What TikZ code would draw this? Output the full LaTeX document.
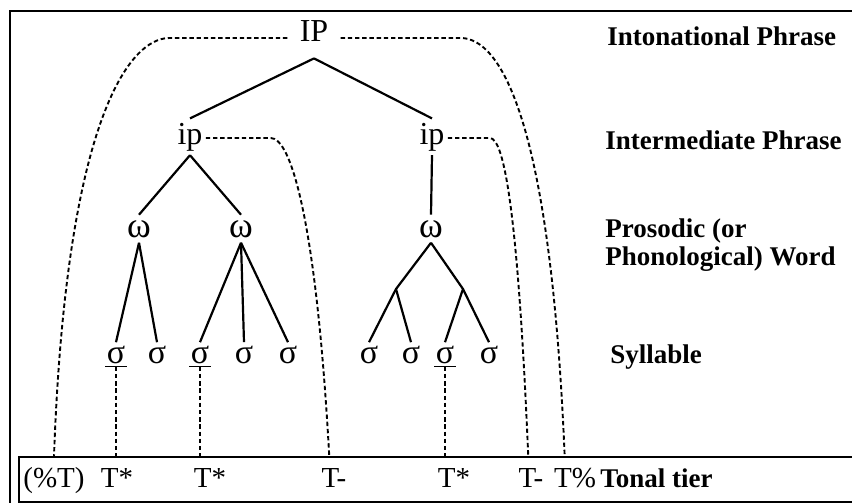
\documentclass[tikz,border=0pt]{standalone}
\usepackage{fontspec}
\setmainfont{Liberation Serif}
\usetikzlibrary{calc}

\begin{document}
\begin{tikzpicture}[
    x=0.5pt, y=-0.5pt,
    phrase/.style={anchor=base, font=\fontsize{16}{18}\selectfont,
                   inner xsep=6pt, inner ysep=8.5pt},
    iphrase/.style={anchor=base, font=\fontsize{16}{18}\selectfont,
                    inner xsep=1.5pt, inner ysep=2pt},
    word/.style={anchor=base, font=\fontsize{18}{20}\selectfont,
                 inner xsep=1pt, inner ysep=2.5pt},
    syl/.style={anchor=base, font=\fontsize{17}{19}\selectfont,
                inner xsep=0.5pt, inner ysep=1.5pt},
    tone/.style={anchor=base, font=\fontsize{14.5}{16}\selectfont, inner sep=0pt},
    level/.style={anchor=base west, font=\fontsize{13.5}{15}\selectfont\bfseries,
                  inner sep=0pt},
    tierbox/.style={draw, line width=0.75pt, anchor=north west, inner sep=0pt,
                    minimum width=441pt, minimum height=22.5pt},
    branch/.style={line width=1.1pt},
    tie/.style={line width=0.95pt, dash pattern=on 2.2pt off 1.4pt}
]

\useasboundingbox (0,0) rectangle (852,503);
\clip (0,0) rectangle (852,503);
\fill[white] (0,0) rectangle (852,503);
\draw[line width=1.25pt] (10,11) rectangle (900,560);

% prosodic tree
\node[phrase] (IP) at (314,41) {IP};
\node[iphrase] (ipA) at (190,144) {ip};
\node[iphrase] (ipB) at (432,144) {ip};
\node[word] (wA) at (139,237) {ω};
\node[word] (wB) at (241,237) {ω};
\node[word] (wC) at (431,237) {ω};

\node[syl] (s1) at (116,363) {σ};
\node[syl] (s2) at (157,363) {σ};
\node[syl] (s3) at (200,363) {σ};
\node[syl] (s4) at (244,363) {σ};
\node[syl] (s5) at (288,363) {σ};
\node[syl] (s6) at (369,363) {σ};
\node[syl] (s7) at (411,363) {σ};
\node[syl] (s8) at (445,363) {σ};
\node[syl] (s9) at (489,363) {σ};

\coordinate (b1) at (396,289);
\coordinate (b2) at (463,289);

\draw[branch] (IP.south) -- (ipA.north);
\draw[branch] (IP.south) -- (ipB.north);
\draw[branch] (ipA.south) -- (wA.north);
\draw[branch] (ipA.south) -- (wB.north);
\draw[branch] (ipB.south) -- (wC.north);
\draw[branch] (wA.south) -- (s1.north);
\draw[branch] (wA.south) -- (s2.north);
\draw[branch] (wB.south) -- (s3.north);
\draw[branch] (wB.south) -- (s4.north);
\draw[branch] (wB.south) -- (s5.north);
\draw[branch] (wC.south) -- (b1) -- (s6.north);
\draw[branch] (b1) -- (s7.north);
\draw[branch] (wC.south) -- (b2) -- (s8.north);
\draw[branch] (b2) -- (s9.north);

% tonal tier
\node[tierbox] (tier) at (18,456) {};
\node[tone] (t0) at (54,487) {(\%T)};
\node[tone] (t1) at (117,487) {T*};
\node[tone] (t2) at (210,487) {T*};
\node[tone] (t3) at (334,487) {T-};
\node[tone] (t4) at (454,487) {T*};
\node[tone] (t5) at (531,487) {T-};
\node[tone] (t6) at (575,487) {T\%};

% stressed syllables
\foreach \s in {s1,s3,s8} {
    \draw[line width=0.75pt] (\s.south west) -- (\s.south east);
    \draw[tie] (\s.south) -- (\s |- tier.north);
}

% edge tones
\draw[tie] ([yshift=1.5pt]IP.base west) -- ++(-118,0)
    .. controls +(-40,0) and +(12,-336) .. (t0 |- tier.north);
\draw[tie] ([yshift=1.5pt]IP.base east) -- ++(120,0)
    .. controls +(40,0) and +(-14,-336) .. ($(t6.west |- tier.north)+(11,0)$);
\draw[tie] ([yshift=3pt]ipA.base east) -- ++(65,0)
    .. controls +(20,0) and +(-13,-236) .. ($(t3.west |- tier.north)+(8,0)$);
\draw[tie] ([yshift=3pt]ipB.base east) -- ++(42,0)
    .. controls +(15,0) and +(-10,-236) .. ($(t5.west |- tier.north)+(10,0)$);

% level names
\node[level] (lIP) at (607,46) {Intonational Phrase};
\node[level] (lip) at (605,149) {Intermediate Phrase};
\node[level] (lw1) at (605,237) {Prosodic (or};
\node[level] (lw2) at (605,265) {Phonological) Word};
\node[level] (lsyl) at (610,363) {Syllable};
\node[level] (ltone) at (600,487) {Tonal tier};

\end{tikzpicture}
\end{document}
